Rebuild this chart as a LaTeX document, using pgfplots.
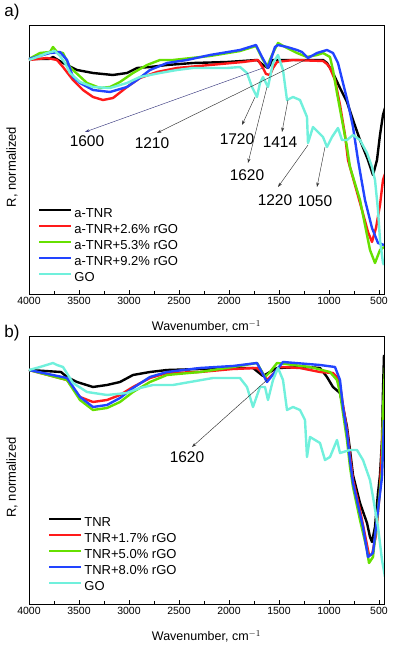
\documentclass[border=0pt]{standalone}
\usepackage{fontspec}
\setmainfont{Liberation Sans}
\usepackage{pgfplots}
\pgfplotsset{compat=1.18}
\usetikzlibrary{arrows.meta}

\definecolor{cblack}{HTML}{000000}
\definecolor{cred}{HTML}{FF1A1A}
\definecolor{cgreen}{HTML}{66E000}
\definecolor{cblue}{HTML}{2244FF}
\definecolor{ccyan}{HTML}{70F0DC}
\definecolor{annot}{HTML}{333333}
\definecolor{annotblue}{HTML}{3A3A80}

\newcommand\legfont{\fontsize{13}{15}\selectfont}
\tikzset{ann/.style={annot, line width=0.45pt, -{Stealth[length=4.5pt,width=3pt]}}}

\pgfplotsset{
  irpanel/.style={
    scale only axis, width=355pt, height=269pt,
    x dir=reverse, xmin=450, xmax=4000, ymin=0, ymax=269,
    xtick={500,1000,...,4000}, minor x tick num=1, ytick=\empty,
    xtick pos=left, tick align=inside,
    major tick length=4pt, minor tick length=2.5pt,
    axis line style={line width=0.8pt},
    every tick/.style={black, line width=0.6pt},
    xticklabel style={font=\fontsize{10.5}{12}\selectfont},
    /pgf/number format/assume math mode=true,
    /pgf/number format/1000 sep={},
    xlabel={Wavenumber, cm$^{-1}$},
    ylabel={R, normalized},
    xlabel style={font=\fontsize{12.5}{14}\selectfont, yshift=-9pt},
    ylabel style={font=\legfont, at={(axis description cs:-0.048,0.472)}, anchor=center},
    legend cell align=left,
    legend style={draw=none, fill=none, inner sep=0pt, outer sep=0pt,
      row sep=1.5pt, column sep=0pt, font=\legfont,
      /tikz/every even column/.append style={column sep=0pt}},
    legend image code/.code={\draw[#1] (0pt,4pt) -- (32pt,4pt);},
    every axis plot/.append style={line width=2.4pt, line join=round},
  },
}

\begin{document}
\begin{tikzpicture}[x=1pt,y=1pt]
\useasboundingbox (0,0) rectangle (392,646);
\node[font=\fontsize{17}{20}\selectfont] at (12,634) {a)};
\node[font=\fontsize{17}{20}\selectfont] at (12,313) {b)};

% ---- panel a ----
\begin{axis}[irpanel, at={(29pt,352pt)}, anchor=south west,
  legend style={at={(axis description cs:0.0254,0.325)}, anchor=north west,
    font=\fontsize{13}{15}\selectfont}]
\addplot[cblack] coordinates {
(4000,235) (3800,235) (3760,237) (3660,231) (3520,224) (3360,221) (3160,219)
(3020,221) (2920,226) (2790,227) (2620,229) (2360,231) (2020,232) (1720,234)
(1660,229) (1610,226) (1560,234) (1360,234) (1060,234) (1020,231) (960,221)
(890,206) (820,192) (760,174) (690,154) (610,134) (560,119) (520,134)
(490,159) (460,179) (440,186)};
\addlegendentry{\fontsize{13}{15}\selectfont a-TNR}
\addplot[cred] coordinates {
(4000,234) (3820,236) (3720,234) (3660,227) (3560,214) (3460,204) (3360,197)
(3260,194) (3160,196) (3020,207) (2890,216) (2720,222) (2520,226) (2190,229)
(1860,232) (1710,234) (1660,226) (1630,220) (1590,219) (1560,226) (1520,232)
(1360,234) (1060,233) (1020,230) (990,226) (940,214) (890,189) (840,159)
(810,134) (740,109) (670,84) (610,62) (570,52) (530,66) (490,89) (460,114)
(440,120)};
\addlegendentry{\fontsize{13}{15}\selectfont a-TNR+2.6\% rGO}
\addplot[cgreen] coordinates {
(4000,235) (3890,241) (3790,242) (3760,247) (3720,242) (3660,241) (3590,227)
(3560,224) (3420,211) (3290,206) (3190,207) (3090,212) (2960,221) (2820,229)
(2690,234) (2560,234) (2190,238) (1890,243) (1730,248) (1670,236) (1620,227)
(1570,239) (1510,251) (1420,246) (1320,241) (1220,237) (1120,239) (1060,241)
(990,237) (960,224) (920,201) (870,174) (820,147) (790,127) (690,94) (590,44)
(540,31) (490,44) (450,47)};
\addlegendentry{\fontsize{13}{15}\selectfont a-TNR+5.3\% rGO}
\addplot[cblue] coordinates {
(4000,235) (3790,241) (3690,242) (3620,234) (3560,217) (3490,211) (3360,204)
(3190,202) (3020,207) (2920,214) (2790,224) (2620,231) (2420,234) (2190,239)
(1890,244) (1730,249) (1670,237) (1610,226) (1540,247) (1510,249) (1420,247)
(1320,244) (1270,242) (1210,236) (1120,241) (1020,244) (960,241) (910,231)
(860,211) (810,191) (760,167) (710,134) (640,94) (570,66) (510,51) (450,49)};
\addlegendentry{\fontsize{13}{15}\selectfont a-TNR+9.2\% rGO}
\addplot[ccyan] coordinates {
(4000,234) (3890,238) (3820,241) (3740,243) (3690,238) (3640,231) (3590,221)
(3490,212) (3360,207) (3190,206) (3020,211) (2890,217) (2690,221) (2520,224)
(2360,226) (2020,226) (1890,227) (1820,221) (1770,207) (1720,197) (1690,211)
(1660,217) (1610,207) (1560,231) (1510,239) (1460,224) (1420,194) (1360,197)
(1290,194) (1220,177) (1210,151) (1160,167) (1060,157) (1020,147) (970,157)
(910,166) (870,154) (820,154) (760,159) (690,154) (620,141) (570,127)
(540,114) (510,84) (490,54) (460,31) (450,29)};
\addlegendentry{\fontsize{13}{15}\selectfont GO}
\draw[ann, annotblue] (axis cs:1660,226) -- (axis cs:3440,162);
\draw[ann] (axis cs:1220,235) -- (axis cs:2720,161);
\draw[ann] (axis cs:1740,197) -- (axis cs:1870,169);
\draw[ann] (axis cs:1410,194) -- (axis cs:1470,162);
\draw[ann] (axis cs:1620,207) -- (axis cs:1810,131);
\draw[ann] (axis cs:1210,149) -- (axis cs:1510,107);
\draw[ann] (axis cs:1040,147) -- (axis cs:1120,107);
\begin{scope}[every node/.style={font=\fontsize{15.5}{17}\selectfont}]
\node at (axis cs:3420,153) {1600};
\node at (axis cs:2770,151) {1210};
\node at (axis cs:1920,155) {1720};
\node at (axis cs:1490,152) {1414};
\node at (axis cs:1820,119) {1620};
\node at (axis cs:1540,94) {1220};
\node at (axis cs:1140,93) {1050};
\end{scope}
\end{axis}

% ---- panel b ----
\begin{axis}[irpanel, height=268pt, ymax=268, at={(29pt,42pt)}, anchor=south west,
  legend style={at={(axis description cs:0.0535,0.33)}, anchor=north west,
    font=\fontsize{13}{15}\selectfont}]
\addplot[cblack] coordinates {
(4000,234) (3680,232) (3620,227) (3520,222) (3360,217) (3220,219) (3090,222)
(2960,229) (2790,232) (2620,234) (2290,235) (1960,236) (1760,236) (1660,228)
(1590,232) (1520,236) (1220,237) (1090,236) (1020,227) (960,217) (890,211)
(860,197) (820,177) (790,154) (760,129) (690,101) (620,81) (590,67) (570,62)
(540,77) (510,111) (490,129) (470,164) (460,214) (450,249)};
\addlegendentry{\fontsize{13}{15}\selectfont TNR}
\addplot[cred] coordinates {
(4000,234) (3620,224) (3490,207) (3360,202) (3220,204) (3090,209) (2960,217)
(2790,226) (2620,231) (2290,232) (1960,235) (1720,236) (1670,231) (1620,224)
(1570,229) (1490,237) (1290,236) (1090,232) (960,231) (920,227) (890,219)
(860,199) (820,174) (790,149) (760,124) (690,94) (630,64) (600,49) (570,49)
(530,69) (490,114) (460,184) (440,214)};
\addlegendentry{\fontsize{13}{15}\selectfont TNR+1.7\% rGO}
\addplot[cgreen] coordinates {
(4000,234) (3620,224) (3490,204) (3360,194) (3220,196) (3090,202) (2960,212)
(2790,222) (2620,229) (2290,232) (1960,237) (1720,241) (1640,227) (1590,232)
(1520,241) (1190,237) (990,232) (920,224) (890,211) (860,191) (820,164)
(790,137) (760,117) (690,84) (620,54) (600,41) (560,47) (510,94) (470,134)
(460,194) (440,237)};
\addlegendentry{\fontsize{13}{15}\selectfont TNR+5.0\% rGO}
\addplot[cblue] coordinates {
(4000,234) (3620,226) (3490,207) (3360,197) (3220,199) (3090,206) (2960,216)
(2790,227) (2620,232) (2290,236) (1960,238) (1720,241) (1620,222) (1460,242)
(1090,239) (940,237) (890,224) (860,197) (820,171) (790,144) (760,121)
(660,77) (610,47) (560,51) (510,94) (470,127) (450,184)};
\addlegendentry{\fontsize{13}{15}\selectfont TNR+8.0\% rGO}
\addplot[ccyan] coordinates {
(4000,234) (3890,237) (3760,241) (3720,239) (3660,237) (3560,221) (3420,212)
(3220,209) (3020,211) (2890,216) (2760,219) (2560,219) (2390,222) (2160,226)
(1890,226) (1820,217) (1760,197) (1690,217) (1640,217) (1610,204) (1560,224)
(1510,236) (1460,224) (1420,194) (1360,197) (1290,194) (1240,184) (1220,147)
(1190,167) (1090,161) (1040,144) (990,147) (920,164) (890,151) (790,154)
(720,154) (660,144) (590,124) (560,107) (510,77) (470,44) (440,27)};
\addlegendentry{\fontsize{13}{15}\selectfont GO}
\draw[ann] (axis cs:1620,224) -- (axis cs:2370,157);
\node[font=\fontsize{15.5}{17}\selectfont] at (axis cs:2420,147) {1620};
\end{axis}
\end{tikzpicture}
\end{document}
